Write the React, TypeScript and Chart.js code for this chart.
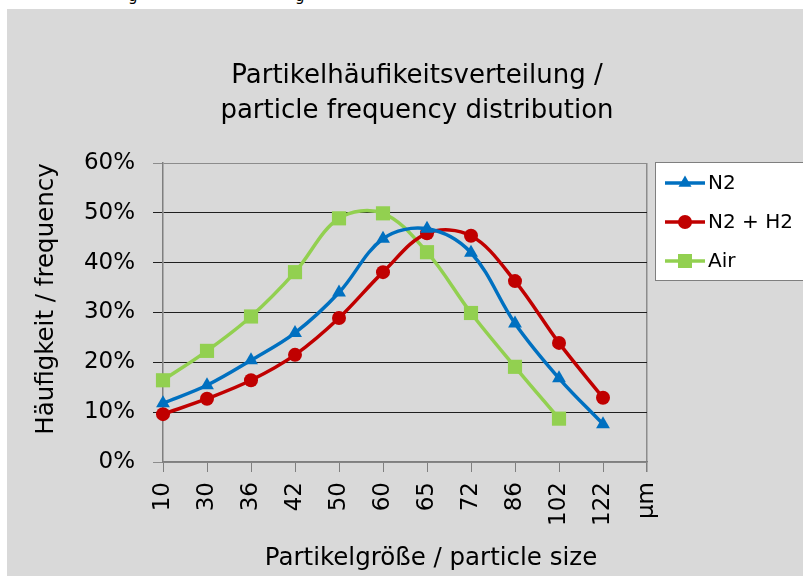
import React, { useEffect, useRef } from "react";
import { Chart, registerables } from "chart.js";

Chart.register(...registerables);

const categories = ["10", "30", "36", "42", "50", "60", "65", "72", "86", "102", "122", "µm"];
const seriesN2 = [11.8, 15.4, 20.4, 25.9, 34.0, 44.8, 46.8, 42.0, 27.8, 16.8, 7.6, null];
const seriesN2H2 = [9.6, 12.7, 16.4, 21.5, 28.9, 38.1, 45.9, 45.4, 36.3, 23.9, 12.9, null];
const seriesAir = [16.4, 22.3, 29.2, 38.1, 48.9, 49.9, 42.1, 29.9, 19.1, 8.7, null, null];
const yTickValues = [0, 10, 20, 30, 40, 50, 60];
const seriesNames = ["N2", "N2 + H2", "Air"];
const seriesColors = ["#0070C0", "#C00000", "#92D050"];
const seriesMarkers = ["triangle", "circle", "rect"];
const titleLines = ["Partikelhäufikeitsverteilung /", "particle frequency distribution"];
const xTitle = "Partikelgröße / particle size";
const yTitle = "Häufigkeit / frequency";

const FONT = '"DejaVu Sans", sans-serif';

const textPlugin = {
  id: "textPlugin",
  afterDraw(chart: any) {
    const ctx = chart.ctx as CanvasRenderingContext2D;
    ctx.save();
    ctx.fillStyle = "#000";
    // chart title
    ctx.font = `26px ${FONT}`;
    ctx.textAlign = "center";
    ctx.textBaseline = "alphabetic";
    ctx.fillText(titleLines[0], 417, 83);
    ctx.fillText(titleLines[1], 417, 118);
    // x axis title
    ctx.font = `24.5px ${FONT}`;
    ctx.fillText(xTitle, 431, 565);
    // y axis title
    ctx.save();
    ctx.translate(53, 299);
    ctx.rotate(-Math.PI / 2);
    ctx.font = `24.5px ${FONT}`;
    ctx.fillText(yTitle, 0, 0);
    ctx.restore();

    // legend
    ctx.fillStyle = "#ffffff";
    ctx.strokeStyle = "#7f7f7f";
    ctx.lineWidth = 1;
    ctx.fillRect(655.5, 162.5, 200, 118);
    ctx.strokeRect(655.5, 162.5, 200, 118);
    const rows = [183, 222, 261];
    chart.data.datasets.forEach((ds: any, i: number) => {
      const y = rows[i];
      ctx.strokeStyle = ds.borderColor;
      ctx.lineWidth = 3.5;
      ctx.beginPath();
      ctx.moveTo(665, y);
      ctx.lineTo(705, y);
      ctx.stroke();
      ctx.fillStyle = ds.borderColor;
      ctx.beginPath();
      const cx = 685;
      if (ds.pointStyle === "triangle") {
        const r = 7.5;
        ctx.moveTo(cx, y - r);
        ctx.lineTo(cx + r * 0.866, y + r * 0.5);
        ctx.lineTo(cx - r * 0.866, y + r * 0.5);
        ctx.closePath();
        ctx.fill();
      } else if (ds.pointStyle === "circle") {
        ctx.arc(cx, y, 7, 0, Math.PI * 2);
        ctx.fill();
      } else {
        ctx.fillRect(cx - 7, y - 7, 14, 14);
      }
      ctx.fillStyle = "#000";
      ctx.font = `20px ${FONT}`;
      ctx.textAlign = "left";
      ctx.textBaseline = "middle";
      ctx.fillText(ds.label, 708, y + 1);
    });
    ctx.restore();
  },
};

export default function App() {
  const ref = useRef<HTMLCanvasElement | null>(null);

  useEffect(() => {
    if (!ref.current) return;
    const datasets = [seriesN2, seriesN2H2, seriesAir].map((data, i) => ({
      label: seriesNames[i],
      data,
      borderColor: seriesColors[i],
      backgroundColor: seriesColors[i],
      pointStyle: seriesMarkers[i],
      pointRadius: i === 2 ? 10 : i === 0 ? 8 : 7,
      pointBorderWidth: 0,
      borderWidth: 3.5,
      tension: 0.35,
      spanGaps: false,
    }));
    const chart = new Chart(ref.current, {
      type: "line",
      data: { labels: categories, datasets },
      plugins: [textPlugin],
      options: {
        animation: false,
        responsive: false,
        devicePixelRatio: 1,
        layout: { padding: { left: 0, top: 163, right: 156, bottom: 0 } },
        plugins: { legend: { display: false }, title: { display: false }, tooltip: { enabled: false } },
        scales: {
          x: {
            type: "category",
            offset: false,
            afterFit(scale: any) {
              scale.height = 114;
            },
            grid: {
              drawOnChartArea: true,
              color: (c: any) => (c.index === categories.length - 1 ? "#8c8c8c" : "rgba(0,0,0,0)"),
              lineWidth: (c: any) => (c.index === categories.length - 1 ? 1.5 : 1),
              tickColor: "#7f7f7f",
              tickLength: 10,
            },
            border: { display: true, color: "#7f7f7f", width: 1.5 },
            ticks: {
              autoSkip: false,
              maxRotation: 90,
              minRotation: 90,
              padding: 10,
              color: "#000",
              font: { family: FONT, size: 23 },
            },
          },
          y: {
            min: 0,
            max: 60,
            afterFit(scale: any) {
              scale.width = 163;
            },
            afterBuildTicks(scale: any) {
              scale.ticks = yTickValues.map((v) => ({ value: v }));
            },
            grid: {
              color: (c: any) => (c.tick && (c.tick.value === 0 || c.tick.value === 60) ? "#8c8c8c" : "#1f1f1f"),
              tickLength: 10,
              lineWidth: 1,
            },
            border: { display: true, color: "#7f7f7f", width: 1.5 },
            ticks: {
              padding: 18,
              color: "#000",
              font: { family: FONT, size: 23 },
              callback: (v: any) => `${v}%`,
            },
          },
        },
      },
    } as any);
    return () => chart.destroy();
  }, []);

  return (
    <div style={{ position: "fixed", left: 0, top: 0, width: 803, height: 576, background: "#ffffff", overflow: "hidden" }}>
      <div style={{ position: "absolute", left: 0, top: 0, width: 803, height: 9, overflow: "hidden", fontFamily: FONT, fontSize: 15, lineHeight: "15px", color: "#000" }}>
        <span style={{ position: "absolute", left: 128, top: -11 }}>g</span>
        <span style={{ position: "absolute", left: 295, top: -11 }}>g</span>
      </div>
      <div style={{ position: "absolute", left: 7, top: 9, right: 0, bottom: 0, background: "#d9d9d9" }} />
      <canvas ref={ref} width={803} height={576} style={{ position: "absolute", left: 0, top: 0, width: 803, height: 576 }} />
    </div>
  );
}
